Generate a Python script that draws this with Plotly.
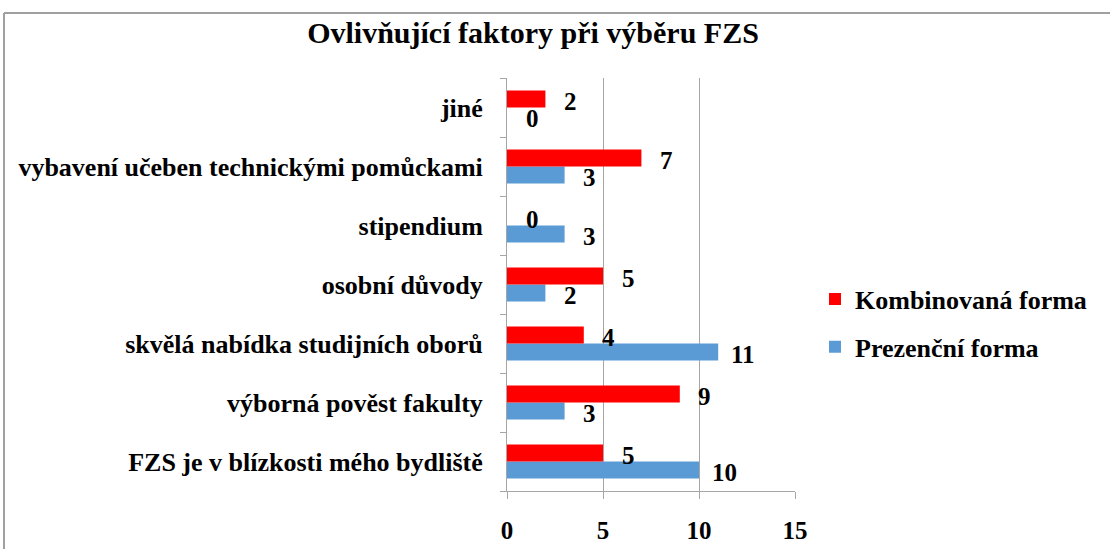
import plotly.graph_objects as go

categories = [
    "FZS je v blízkosti mého bydliště",
    "výborná pověst fakulty",
    "skvělá nabídka studijních oborů",
    "osobní důvody",
    "stipendium",
    "vybavení učeben technickými pomůckami",
    "jiné",
]
kombinovana = [5, 9, 4, 5, 0, 7, 2]
prezencni = [10, 3, 11, 2, 3, 3, 0]
x_ticks = [0, 5, 10, 15]

RED = "#FF0000"
BLUE = "#5B9BD5"
GRID = "#A6A6A6"
FONT = "Times New Roman, Liberation Serif, serif"

W, H = 1110, 549
L, R, T, B = 507, 315, 78, 58
pw, ph = W - L - R, H - T - B

def px_x(px):
    return (px - L) / pw

def px_y(py):
    return (H - B - py) / ph

fig = go.Figure()
fig.add_trace(go.Bar(y=categories, x=prezencni, orientation="h", name="Prezenční forma",
                     marker=dict(color=BLUE, line=dict(width=0)), legendgroup="p", legendrank=2))
fig.add_trace(go.Bar(y=categories, x=kombinovana, orientation="h", name="Kombinovaná forma",
                     marker=dict(color=RED, line=dict(width=0)), legendgroup="k", legendrank=1))

annotations = []
for c, v in zip(categories, kombinovana):
    annotations.append(dict(x=v, y=c, xref="x", yref="y", text=str(v), showarrow=False,
                            xshift=25, yshift=6, font=dict(size=25, family=FONT, color="black", weight="bold")))
for c, v in zip(categories, prezencni):
    annotations.append(dict(x=v, y=c, xref="x", yref="y", text=str(v), showarrow=False,
                            xshift=25, yshift=-11, font=dict(size=25, family=FONT, color="black", weight="bold")))

shapes = [
    dict(type="line", xref="paper", yref="paper", x0=px_x(4), x1=px_x(1110), y0=px_y(13), y1=px_y(13),
         line=dict(color="#A0A0A0", width=2)),
    dict(type="line", xref="paper", yref="paper", x0=px_x(4), x1=px_x(4), y0=px_y(13), y1=px_y(549),
         line=dict(color="#A0A0A0", width=2)),
]

fig.update_layout(
    template="none",
    width=W, height=H, autosize=False,
    margin=dict(l=L, r=R, t=T, b=B, pad=0),
    paper_bgcolor="white", plot_bgcolor="white",
    font=dict(family=FONT, color="black", weight="bold"),
    title=dict(text="Ovlivňující faktory při výběru FZS", x=533 / W, xanchor="center",
               y=1 - 32 / H, yanchor="middle", yref="container",
               font=dict(size=30, family=FONT, color="black", weight="bold")),
    barmode="group", bargap=0.42, bargroupgap=0,
    showlegend=True,
    legend=dict(x=px_x(815), xanchor="left", y=px_y(323), yanchor="middle",
                traceorder="grouped", tracegroupgap=11,
                font=dict(size=26, family=FONT, color="black", weight="bold"),
                bgcolor="rgba(0,0,0,0)"),
    xaxis=dict(range=[0, 15], tickvals=x_ticks, showgrid=True, gridcolor=GRID, gridwidth=1,
               zeroline=False, showline=True, linecolor=GRID, linewidth=1, automargin=False,
               ticks="outside", ticklen=7, tickcolor=GRID,
               tickfont=dict(size=25, family=FONT, color="black", weight="bold"),
               ticklabelstandoff=10, fixedrange=True),
    yaxis=dict(type="category", showgrid=False, zeroline=False, showline=True, linecolor=GRID, linewidth=1,
               automargin=False,
               ticks="outside", ticklen=6, tickcolor=GRID, tickson="boundaries",
               tickfont=dict(size=26, family=FONT, color="black", weight="bold"),
               ticklabelstandoff=18, fixedrange=True),
    annotations=annotations,
    shapes=shapes,
)

fig.write_html(
    "out.html",
    config={"responsive": False, "displayModeBar": False},
    post_script="document.body.style.margin='0px';document.body.style.overflow='hidden';",
)
